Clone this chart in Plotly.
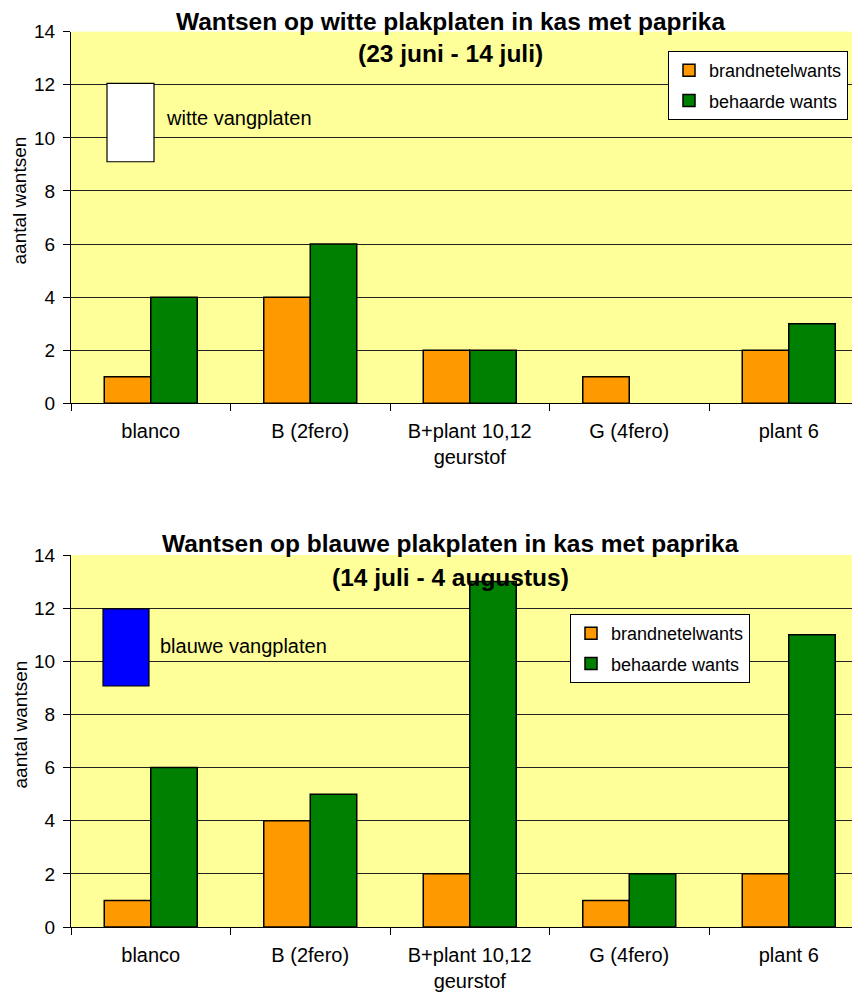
import plotly.graph_objects as go

categories = ["blanco", "B (2fero)", "B+plant 10,12<br>geurstof", "G (4fero)", "plant 6"]
series_names = ["brandnetelwants", "behaarde wants"]
top_brandnetel = [1, 4, 2, 1, 2]
top_behaarde = [4, 6, 2, 0, 3]
bottom_brandnetel = [1, 4, 2, 1, 2]
bottom_behaarde = [6, 5, 13, 2, 11]
y_ticks = [0, 2, 4, 6, 8, 10, 12, 14]

ORANGE = "#FF9900"
GREEN = "#008000"
BG = "#FFFF99"
FONT = "Liberation Sans, Arial, sans-serif"

# the page body has an 8px margin; figure is sized to fill the rest of the window
OFF = 8
W, H = 860 - OFF, 996 - OFF
def px(x):
    return (x - OFF) / W
def py(y):
    return 1 - (y - OFF) / H

fig = go.Figure()

for vals, name, col, xa, ya, leg in [
    (top_brandnetel, series_names[0], ORANGE, "x", "y", "legend"),
    (top_behaarde, series_names[1], GREEN, "x", "y", "legend"),
    (bottom_brandnetel, series_names[0], ORANGE, "x2", "y2", "legend2"),
    (bottom_behaarde, series_names[1], GREEN, "x2", "y2", "legend2"),
]:
    fig.add_trace(go.Bar(
        x=categories, y=vals, name=name, xaxis=xa, yaxis=ya, legend=leg,
        legendgroup=name + leg,
        marker=dict(color=col, line=dict(color="black", width=[1.5 if v else 0 for v in vals])),
    ))

# the chart's plot area runs slightly past the right edge of the picture
cat_px = 159.5
x_left = 71
x_hi = -0.5 + (860 - x_left) / cat_px
xdom = [px(x_left), 1.0]
top_dom = [py(403.3), py(31.7)]
bot_dom = [py(927), py(555)]

xaxis_common = dict(
    type="category", tickson="boundaries", ticks="outside", ticklen=7,
    tickcolor="black", showline=True, linecolor="black", linewidth=1,
    showgrid=False, tickfont=dict(family=FONT, size=20, color="black"),
    ticklabelstandoff=10, domain=xdom, automargin=False,
    range=[-0.5, x_hi],
)
yaxis_common = dict(
    range=[0, 14], tickvals=y_ticks, ticks="outside", ticklen=7,
    tickcolor="black", showline=True, linecolor="black", linewidth=1,
    showgrid=True, gridcolor="#222222", gridwidth=1, zeroline=False,
    tickfont=dict(family=FONT, size=19, color="black"), ticklabelstandoff=4,
    automargin=False,
)

legend_common = dict(
    xanchor="right", yanchor="top", bgcolor="white", bordercolor="black", borderwidth=1,
    font=dict(family=FONT, size=18, color="black"), traceorder="grouped",
    tracegroupgap=4, itemwidth=30,
)

fig.update_layout(
    width=W, height=H,
    margin=dict(l=0, r=0, t=0, b=0, autoexpand=False),
    paper_bgcolor="white", plot_bgcolor=BG,
    barmode="group", bargap=0.417, bargroupgap=0,
    xaxis=dict(anchor="y", **xaxis_common),
    yaxis=dict(anchor="x", domain=top_dom, **yaxis_common),
    xaxis2=dict(anchor="y2", **xaxis_common),
    yaxis2=dict(anchor="x2", domain=bot_dom, **yaxis_common),
    legend=dict(x=px(848), y=py(51), **legend_common),
    legend2=dict(x=px(750), y=py(614), **legend_common),
    showlegend=True,
)

# titles
titles = [
    ("Wantsen op witte plakplaten in kas met paprika", 21),
    ("(23 juni - 14 juli)", 53),
    ("Wantsen op blauwe plakplaten in kas met paprika", 543),
    ("(14 juli - 4 augustus)", 577),
]
for txt, yc in titles:
    fig.add_annotation(text="<b>" + txt + "</b>", x=px(450), y=py(yc),
                       xref="paper", yref="paper", xanchor="center", yanchor="middle",
                       showarrow=False, font=dict(family=FONT, size=24.5, color="black"))

# y axis titles
for yc in [201, 725]:
    fig.add_annotation(text="aantal wantsen", x=px(19.5), y=py(yc), xref="paper", yref="paper",
                       textangle=-90, showarrow=False, xanchor="center", yanchor="middle",
                       font=dict(family=FONT, size=19, color="black"))

# trap plate markers
fig.add_shape(type="rect", xref="paper", yref="y", x0=px(107), x1=px(154), y0=9.1, y1=12.05,
              fillcolor="white", line=dict(color="black", width=1.2))
fig.add_annotation(text="witte vangplaten", xref="paper", yref="y", x=px(164), y=10.75,
                   xanchor="left", yanchor="middle", showarrow=False,
                   font=dict(family=FONT, size=20, color="black"))
fig.add_shape(type="rect", xref="paper", yref="y2", x0=px(103), x1=px(149), y0=9.07, y1=11.97,
              fillcolor="#0000FF", line=dict(color="black", width=1.2))
fig.add_annotation(text="blauwe vangplaten", xref="paper", yref="y2", x=px(158), y=10.58,
                   xanchor="left", yanchor="middle", showarrow=False,
                   font=dict(family=FONT, size=20, color="black"))

fig.write_html("out.html")
